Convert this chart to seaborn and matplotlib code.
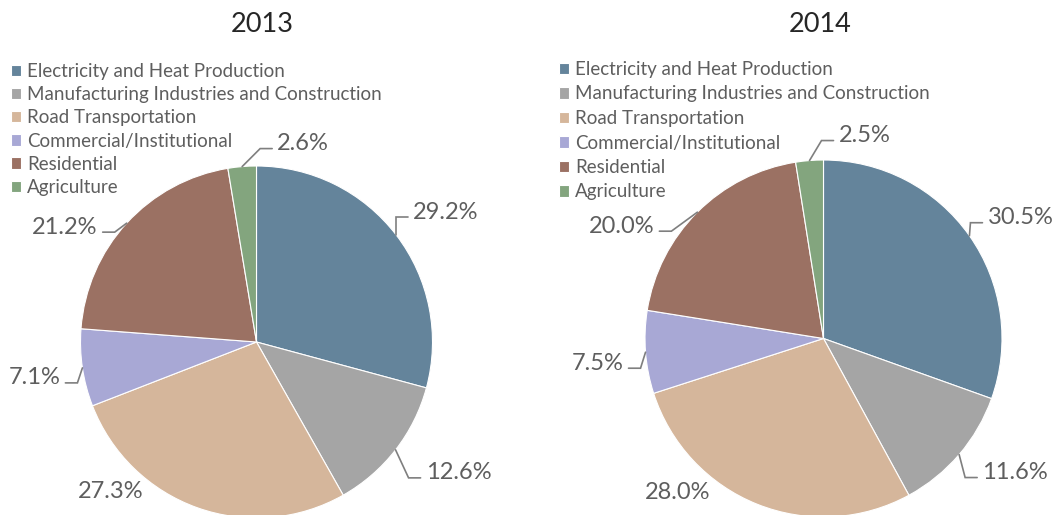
import numpy as np
import seaborn as sns
import matplotlib.pyplot as plt

# sector shares (%)
categories = ['Electricity and Heat Production', 'Manufacturing Industries and Construction',
              'Road Transportation', 'Commercial/Institutional', 'Residential', 'Agriculture']
years = ['2013', '2014']
shares_2013 = [29.2, 12.6, 27.3, 7.1, 21.2, 2.6]
shares_2014 = [30.5, 11.6, 28.0, 7.5, 20.0, 2.5]
colors = ['#64849b', '#a5a5a5', '#d5b69b', '#a8a8d5', '#9b7163', '#83a57e']

W, H = 1054, 515

sns.set_theme(style='white')
plt.rcParams['font.family'] = ['Lato', 'DejaVu Sans']
palette = sns.color_palette(colors)

fig = plt.figure(figsize=(W / 100, H / 100), dpi=100)
ax = fig.add_axes([0, 0, 1, 1])

# layout in pixels (y grows downwards)
pies = [
    dict(values=shares_2013, center=(256.5, 342), r=176, title_x=262,
         legend_xy=(11, 63), spacing=0.33,
         offsets=[(17, -23), (30, 23), (-54, -16), (-22, 10), (-29, 4), (35, -23)]),
    dict(values=shares_2014, center=(823.5, 338.5), r=178.5, title_x=820,
         legend_xy=(559, 61), spacing=0.40,
         offsets=[(18, -18), (23, 18), (-47, -12), (-22, 11), (-43, 14), (29, -25)]),
]
leader = [True, True, False, True, True, True]
grey = '#5e5e5e'

for year, p in zip(years, pies):
    cx, cy = p['center']
    # y axis is flipped, so counterclock=True draws clockwise on screen
    wedges, _ = ax.pie(p['values'], colors=palette, startangle=-90, counterclock=True,
                       center=(cx, cy), radius=p['r'],
                       wedgeprops=dict(edgecolor='white', linewidth=0.8))
    for w, v, (dx, dy), line in zip(wedges, p['values'], p['offsets'], leader):
        mid = np.deg2rad((w.theta1 + w.theta2) / 2)
        axp, ayp = cx + p['r'] * np.cos(mid), cy + p['r'] * np.sin(mid)
        tx, ty = axp + dx, ayp + dy
        s = 1 if dx > 0 else -1
        ax.text(tx, ty, f'{v:.1f}%', ha='left' if s > 0 else 'right', va='center',
                fontsize=17, color=grey)
        if line:
            ex = tx - 5 * s
            ax.plot([axp, ex - 12 * s, ex], [ayp, ty + 5, ty + 5], color='#7f7f7f', lw=1.2,
                    solid_joinstyle='miter')
    ax.text(p['title_x'], 25, year, ha='center', va='center', fontsize=19.5, color='#262626')
    leg = ax.legend(wedges, categories, loc='upper left', bbox_to_anchor=p['legend_xy'],
                    bbox_transform=ax.transData, frameon=False, borderpad=0, borderaxespad=0,
                    handlelength=0.55, handleheight=0.55, handletextpad=0.3,
                    labelspacing=p['spacing'], labelcolor=grey, prop=dict(size=13.5))
    ax.add_artist(leg)
    ax.legend_ = None

ax.set_aspect('auto')
ax.set_xlim(0, W)
ax.set_ylim(H, 0)
ax.axis('off')

fig.savefig('out.png', dpi=100)
